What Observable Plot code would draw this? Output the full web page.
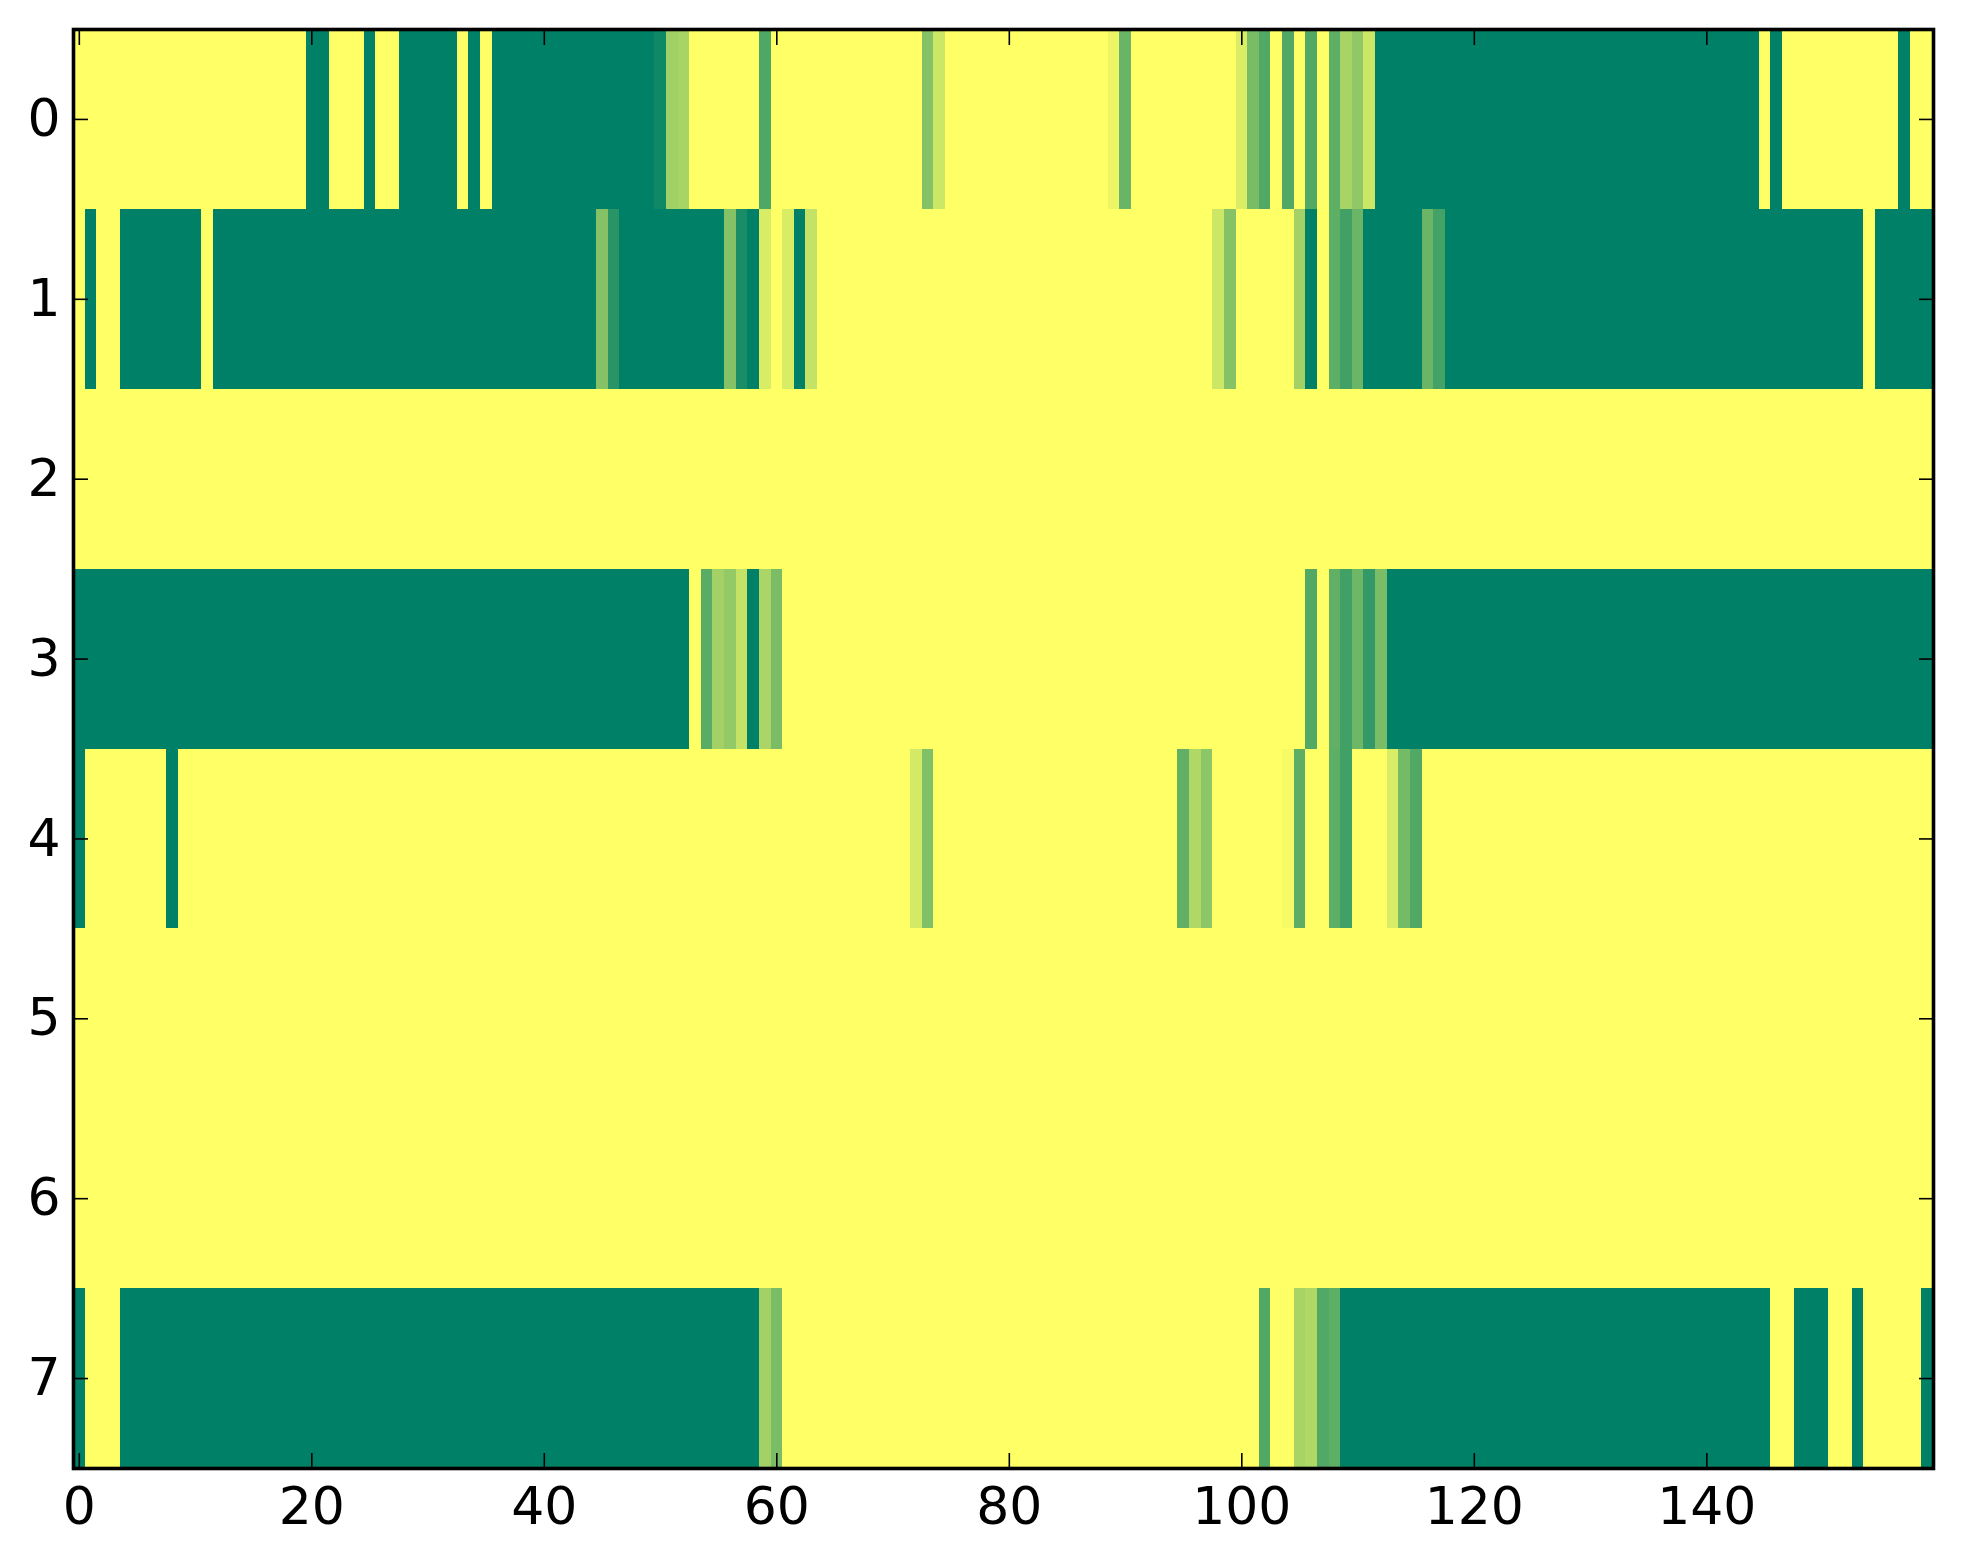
<!DOCTYPE html>
<html><head><meta charset="utf-8">
<script src="https://cdn.jsdelivr.net/npm/d3@7"></script>
<script src="https://cdn.jsdelivr.net/npm/@observablehq/plot@0.6"></script>
<style>html,body{margin:0;padding:0;background:#fff;} svg{display:block}</style>
</head><body><div id="chart"></div>
<script>
// Values per row (0..7), one per column (0..159); 0 = dark green, 1 = yellow (summer colormap)
const row0 = [
  1,1,1,1,1,1,1,1,1,1,
  1,1,1,1,1,1,1,1,1,1,
  0,0,1,1,1,0,1,1,0,0,
  0,0,0,1,0,1,0,0,0,0,
  0,0,0,0,0,0,0,0,0,0,
  0.06,0.63,0.66,1,1,1,1,1,1,0.31,
  1,1,1,1,1,1,1,1,1,1,
  1,1,1,0.52,0.8,1,1,1,1,1,
  1,1,1,1,1,1,1,1,1,0.92,
  0.41,1,1,1,1,1,1,1,1,1,
  0.86,0.47,0.32,1,0.32,1,0.32,1,0.37,0.66,
  0.57,0.8,0,0,0,0,0,0,0,0,
  0,0,0,0,0,0,0,0,0,0,
  0,0,0,0,0,0,0,0,0,0,
  0,0,0,0,0,1,0,1,1,1,
  1,1,1,1,1,1,1,0,1,1
];
const row1 = [
  1,0,1,1,0,0,0,0,0,0,
  0,1,0,0,0,0,0,0,0,0,
  0,0,0,0,0,0,0,0,0,0,
  0,0,0,0,0,0,0,0,0,0,
  0,0,0,0,0,0.52,0.16,0,0,0,
  0,0,0,0,0,0,0.52,0.1,0,0.85,
  1,0.85,0,0.77,1,1,1,1,1,1,
  1,1,1,1,1,1,1,1,1,1,
  1,1,1,1,1,1,1,1,1,1,
  1,1,1,1,1,1,1,1,0.8,0.52,
  1,1,1,1,1,0.64,0,1,0.37,0.25,
  0.42,0,0,0,0,0,0.42,0.27,0,0,
  0,0,0,0,0,0,0,0,0,0,
  0,0,0,0,0,0,0,0,0,0,
  0,0,0,0,0,0,0,0,0,0,
  0,0,0,0,1,0,0,0,0,0
];
const row2 = [
  1,1,1,1,1,1,1,1,1,1, 1,1,1,1,1,1,1,1,1,1, 1,1,1,1,1,1,1,1,1,1, 1,1,1,1,1,1,1,1,1,1,
  1,1,1,1,1,1,1,1,1,1, 1,1,1,1,1,1,1,1,1,1, 1,1,1,1,1,1,1,1,1,1, 1,1,1,1,1,1,1,1,1,1,
  1,1,1,1,1,1,1,1,1,1, 1,1,1,1,1,1,1,1,1,1, 1,1,1,1,1,1,1,1,1,1, 1,1,1,1,1,1,1,1,1,1,
  1,1,1,1,1,1,1,1,1,1, 1,1,1,1,1,1,1,1,1,1, 1,1,1,1,1,1,1,1,1,1, 1,1,1,1,1,1,1,1,1,1
];
const row3 = [
  0,0,0,0,0,0,0,0,0,0,
  0,0,0,0,0,0,0,0,0,0,
  0,0,0,0,0,0,0,0,0,0,
  0,0,0,0,0,0,0,0,0,0,
  0,0,0,0,0,0,0,0,0,0,
  0,0,0,1,0.35,0.64,0.58,0.77,0,0.67,
  0.48,1,1,1,1,1,1,1,1,1,
  1,1,1,1,1,1,1,1,1,1,
  1,1,1,1,1,1,1,1,1,1,
  1,1,1,1,1,1,1,1,1,1,
  1,1,1,1,1,1,0.32,1,0.38,0.25,
  0.43,0.2,0.48,0,0,0,0,0,0,0,
  0,0,0,0,0,0,0,0,0,0,
  0,0,0,0,0,0,0,0,0,0,
  0,0,0,0,0,0,0,0,0,0,
  0,0,0,0,0,0,0,0,0,0
];
const row4 = [
  0,1,1,1,1,1,1,1,0,1,
  1,1,1,1,1,1,1,1,1,1,
  1,1,1,1,1,1,1,1,1,1,
  1,1,1,1,1,1,1,1,1,1,
  1,1,1,1,1,1,1,1,1,1,
  1,1,1,1,1,1,1,1,1,1,
  1,1,1,1,1,1,1,1,1,1,
  1,1,0.83,0.5,1,1,1,1,1,1,
  1,1,1,1,1,1,1,1,1,1,
  1,1,1,1,1,0.38,0.69,0.55,1,1,
  1,1,1,1,0.96,0.36,1,1,0.37,0.25,
  1,1,1,0.85,0.46,0.32,1,1,1,1,
  1,1,1,1,1,1,1,1,1,1,
  1,1,1,1,1,1,1,1,1,1,
  1,1,1,1,1,1,1,1,1,1,
  1,1,1,1,1,1,1,1,1,1
];
const row5 = [
  1,1,1,1,1,1,1,1,1,1, 1,1,1,1,1,1,1,1,1,1, 1,1,1,1,1,1,1,1,1,1, 1,1,1,1,1,1,1,1,1,1,
  1,1,1,1,1,1,1,1,1,1, 1,1,1,1,1,1,1,1,1,1, 1,1,1,1,1,1,1,1,1,1, 1,1,1,1,1,1,1,1,1,1,
  1,1,1,1,1,1,1,1,1,1, 1,1,1,1,1,1,1,1,1,1, 1,1,1,1,1,1,1,1,1,1, 1,1,1,1,1,1,1,1,1,1,
  1,1,1,1,1,1,1,1,1,1, 1,1,1,1,1,1,1,1,1,1, 1,1,1,1,1,1,1,1,1,1, 1,1,1,1,1,1,1,1,1,1
];
const row6 = [
  1,1,1,1,1,1,1,1,1,1, 1,1,1,1,1,1,1,1,1,1, 1,1,1,1,1,1,1,1,1,1, 1,1,1,1,1,1,1,1,1,1,
  1,1,1,1,1,1,1,1,1,1, 1,1,1,1,1,1,1,1,1,1, 1,1,1,1,1,1,1,1,1,1, 1,1,1,1,1,1,1,1,1,1,
  1,1,1,1,1,1,1,1,1,1, 1,1,1,1,1,1,1,1,1,1, 1,1,1,1,1,1,1,1,1,1, 1,1,1,1,1,1,1,1,1,1,
  1,1,1,1,1,1,1,1,1,1, 1,1,1,1,1,1,1,1,1,1, 1,1,1,1,1,1,1,1,1,1, 1,1,1,1,1,1,1,1,1,1
];
const row7 = [
  0,1,1,1,0,0,0,0,0,0,
  0,0,0,0,0,0,0,0,0,0,
  0,0,0,0,0,0,0,0,0,0,
  0,0,0,0,0,0,0,0,0,0,
  0,0,0,0,0,0,0,0,0,0,
  0,0,0,0,0,0,0,0,0,0.64,
  0.48,1,1,1,1,1,1,1,1,1,
  1,1,1,1,1,1,1,1,1,1,
  1,1,1,1,1,1,1,1,1,1,
  1,1,1,1,1,1,1,1,1,1,
  1,1,0.32,1,1,0.66,0.69,0.32,0.37,0,
  0,0,0,0,0,0,0,0,0,0,
  0,0,0,0,0,0,0,0,0,0,
  0,0,0,0,0,0,0,0,0,0,
  0,0,0,0,0,0,1,1,0,0,
  0,1,1,0,1,1,1,1,1,0
];
const rows = [row0, row1, row2, row3, row4, row5, row6, row7];
const xTicks = [0, 20, 40, 60, 80, 100, 120, 140];
const yTicks = [0, 1, 2, 3, 4, 5, 6, 7];
const colorRange = ["#008066", "#ffff66"];

const cells = rows.flatMap((vals, r) => vals.map((v, c) => ({row: r, col: c, value: v})));

const chart = Plot.plot({
  width: 1963,
  height: 1564,
  marginLeft: 73,
  marginRight: 30,
  marginTop: 29,
  marginBottom: 96,
  style: {fontFamily: "DejaVu Sans", fontSize: "52px", background: "white", color: "black", overflow: "visible"},
  x: {domain: [-0.5, 159.5], label: null},
  y: {domain: [7.5, -0.5], label: null},
  color: {type: "linear", domain: [0, 1], range: colorRange, interpolate: "rgb"},
  marks: [
    Plot.rect(cells, {
      x1: d => d.col - 0.5, x2: d => d.col + 0.5,
      y1: d => d.row - 0.5, y2: d => d.row + 0.5,
      fill: "value", inset: 0, shapeRendering: "crispEdges"
    }),
    Plot.axisX({anchor: "bottom", ticks: xTicks, tickSize: -15, tickPadding: 34, strokeWidth: 1.6, label: null, fontSize: 52}),
    Plot.axisX({anchor: "top", ticks: xTicks, tickSize: -15, tickFormat: () => "", strokeWidth: 1.6, label: null}),
    Plot.axisY({anchor: "left", ticks: yTicks, tickSize: -15, tickPadding: 28, strokeWidth: 1.6, label: null, fontSize: 52}),
    Plot.axisY({anchor: "right", ticks: yTicks, tickSize: -15, tickFormat: () => "", strokeWidth: 1.6, label: null}),
    Plot.frame({stroke: "black", strokeWidth: 3.6})
  ]
});
document.getElementById("chart").append(chart);
</script>
</body></html>
